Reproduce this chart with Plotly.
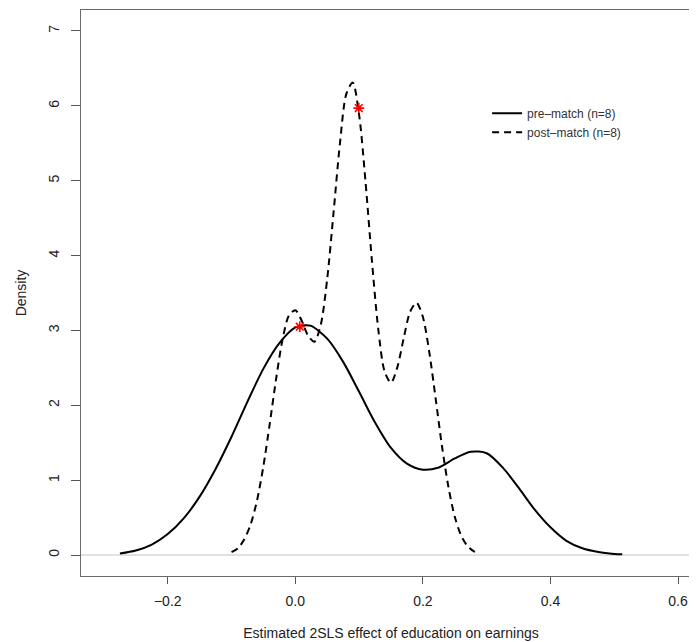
import plotly.graph_objects as go

# pre-match density
pre_x = [-0.275, -0.25, -0.225, -0.2, -0.175, -0.15, -0.125, -0.1, -0.075, -0.05, -0.025,
         0.0, 0.015, 0.025, 0.05, 0.075, 0.1, 0.125, 0.15, 0.175, 0.2, 0.225, 0.25, 0.275,
         0.3, 0.325, 0.35, 0.375, 0.4, 0.425, 0.45, 0.475, 0.5, 0.5125]
pre_y = [0.02, 0.06, 0.14, 0.28, 0.49, 0.78, 1.15, 1.58, 2.05, 2.49, 2.83,
         3.04, 3.07, 3.06, 2.89, 2.58, 2.18, 1.77, 1.43, 1.22, 1.14, 1.17, 1.29, 1.38,
         1.36, 1.17, 0.90, 0.61, 0.37, 0.19, 0.09, 0.04, 0.015, 0.01]

# post-match density
post_x = [-0.10, -0.09, -0.08, -0.07, -0.06, -0.05, -0.04, -0.03, -0.02, -0.01, 0.0,
          0.01, 0.02, 0.03, 0.04, 0.05, 0.06, 0.07, 0.08, 0.09, 0.10, 0.11, 0.12, 0.13,
          0.14, 0.15, 0.16, 0.17, 0.18, 0.19, 0.20, 0.21, 0.22, 0.23, 0.24, 0.25, 0.26,
          0.27, 0.28, 0.285]
post_y = [0.04, 0.09, 0.21, 0.41, 0.73, 1.19, 1.76, 2.36, 2.88, 3.20, 3.27,
          3.13, 2.93, 2.85, 3.08, 3.69, 4.58, 5.50, 6.16, 6.31, 5.88, 4.99, 3.94, 3.02,
          2.45, 2.30, 2.51, 2.90, 3.25, 3.37, 3.18, 2.71, 2.09, 1.45, 0.91, 0.51, 0.26,
          0.12, 0.05, 0.03]

# red star markers
star_x = [0.007, 0.0995]
star_y = [3.05, 5.97]

x_ticks = [-0.2, 0.0, 0.2, 0.4, 0.6]
x_tick_labels = ["\u22120.2", "0.0", "0.2", "0.4", "0.6"]
y_ticks = [0, 1, 2, 3, 4, 5, 6, 7]

FONT = "Liberation Sans, Arial, Helvetica, sans-serif"

fig = go.Figure()
fig.add_hline(y=0, line=dict(color="#c4c4c4", width=1), layer="below")
fig.add_trace(go.Scatter(x=pre_x, y=pre_y, mode="lines", name="pre\u2013match (n=8)",
                         line=dict(color="black", width=2, shape="spline", smoothing=0.8)))
fig.add_trace(go.Scatter(x=post_x, y=post_y, mode="lines", name="post\u2013match (n=8)",
                         line=dict(color="black", width=2, dash="7px,5px", shape="spline", smoothing=0.8)))
fig.add_trace(go.Scatter(x=star_x, y=star_y, mode="markers", showlegend=False,
                         marker=dict(symbol="asterisk-open", size=9, color="red",
                                     line=dict(color="red", width=1.6))))

fig.update_layout(
    width=697, height=642,
    margin=dict(l=73, r=4, t=2, b=74, autoexpand=False),
    paper_bgcolor="white", plot_bgcolor="white",
    font=dict(family=FONT, color="#222", size=14),
    showlegend=True,
    legend=dict(x=0.655, y=0.843, xanchor="left", yanchor="top",
                bgcolor="rgba(0,0,0,0)", borderwidth=0,
                font=dict(size=12, color="#333"), tracegroupgap=0, itemwidth=30),
    xaxis=dict(range=[-0.336, 0.636], tickvals=x_ticks, ticktext=x_tick_labels,
               automargin=False,
               showgrid=False, zeroline=False, showline=True, mirror=True,
               linecolor="#6a6a6a", linewidth=1.3, ticks="outside", ticklen=7,
               tickcolor="#555", tickwidth=1, ticklabelstandoff=5,
               tickfont=dict(size=14),
               title=dict(text="Estimated 2SLS effect of education on earnings",
                          font=dict(size=14), standoff=20)),
    yaxis=dict(range=[-0.28, 7.28], tickvals=y_ticks,
               automargin=False,
               showgrid=False, zeroline=False, showline=True, mirror=True,
               linecolor="#6a6a6a", linewidth=1.3, ticks="outside", ticklen=9,
               tickcolor="#555", tickwidth=1, tickangle=-90, ticklabelstandoff=6,
               tickfont=dict(size=14),
               title=dict(text="Density", font=dict(size=14), standoff=16)),
)

fig.write_html("out.html")
